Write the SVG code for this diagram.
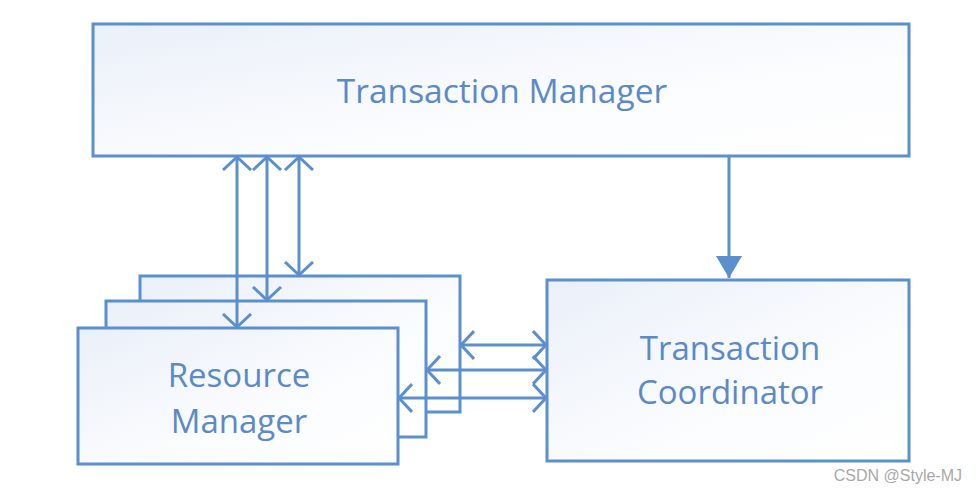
<svg xmlns="http://www.w3.org/2000/svg" width="980" height="494" viewBox="0 0 980 494">
  <defs>
    <linearGradient id="boxfill" x1="0" y1="0" x2="1" y2="1">
      <stop offset="0" stop-color="#eaf0f9"/>
      <stop offset="0.6" stop-color="#fbfcfe"/>
      <stop offset="1" stop-color="#ffffff"/>
    </linearGradient>
    <marker id="chev" markerUnits="userSpaceOnUse" viewBox="0 0 16 32" refX="14" refY="16" markerWidth="16" markerHeight="32" orient="auto-start-reverse">
      <path d="M1,2 L14,16 L1,30" fill="none" stroke="#5b8fcd" stroke-width="3"/>
    </marker>
    <marker id="tri" markerUnits="userSpaceOnUse" viewBox="0 0 22 28" refX="22" refY="14" markerWidth="22" markerHeight="28" orient="auto">
      <path d="M0,1 L22,14 L0,27 z" fill="#5b8fcd"/>
    </marker>
  </defs>
  <style>
    .box { fill: url(#boxfill); stroke: #5b8fcd; stroke-width: 3; }
    .lbl { font-family: "Open Sans", "Liberation Sans", sans-serif; fill: #5b8ac6; text-anchor: middle; }
    .con { stroke: #5b8fcd; stroke-width: 3; fill: none; }
  </style>
  <rect width="980" height="494" fill="#ffffff"/>

  <g id="transaction-manager">
    <rect class="box" x="93" y="24" width="816" height="132"/>
    <text class="lbl" x="502" y="103" font-size="33.5">Transaction Manager</text>
  </g>

  <g id="resource-manager-back">
    <rect class="box" x="140" y="276" width="320" height="136"/>
  </g>
  <g id="resource-manager-middle">
    <rect class="box" x="106" y="301" width="320" height="136"/>
  </g>
  <g id="resource-manager">
    <rect class="box" x="78" y="328" width="320" height="136"/>
    <text class="lbl" x="239" y="387" font-size="33">Resource</text>
    <text class="lbl" x="239" y="433" font-size="33">Manager</text>
  </g>

  <g id="transaction-coordinator">
    <rect class="box" x="547" y="280" width="362" height="181"/>
    <text class="lbl" x="730" y="360" font-size="33">Transaction</text>
    <text class="lbl" x="730" y="404" font-size="33">Coordinator</text>
  </g>

  <g id="connectors">
    <line class="con" x1="237" y1="157" x2="237" y2="327" marker-start="url(#chev)" marker-end="url(#chev)"/>
    <line class="con" x1="267" y1="157" x2="267" y2="300" marker-start="url(#chev)" marker-end="url(#chev)"/>
    <line class="con" x1="299" y1="157" x2="299" y2="275" marker-start="url(#chev)" marker-end="url(#chev)"/>
    <line class="con" x1="461" y1="345" x2="546" y2="345" marker-start="url(#chev)" marker-end="url(#chev)"/>
    <line class="con" x1="427" y1="370" x2="546" y2="370" marker-start="url(#chev)" marker-end="url(#chev)"/>
    <line class="con" x1="399" y1="398" x2="546" y2="398" marker-start="url(#chev)" marker-end="url(#chev)"/>
    <line class="con" x1="729" y1="157" x2="729" y2="278" marker-end="url(#tri)"/>
  </g>

  <text x="962" y="481" font-family="Liberation Sans, Arial, sans-serif" font-size="16" fill="#a8a8a8" text-anchor="end">CSDN @Style-MJ</text>
</svg>
